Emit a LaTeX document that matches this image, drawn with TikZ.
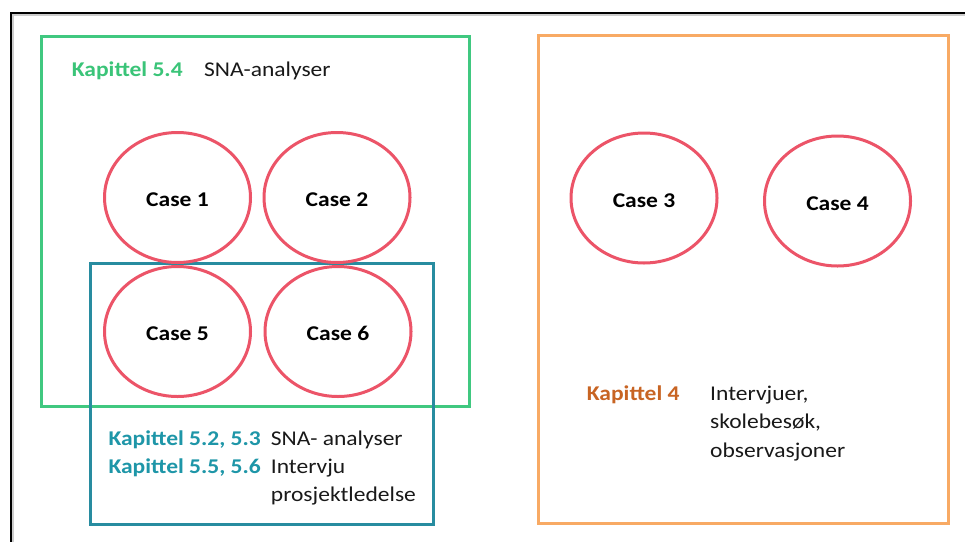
\documentclass[tikz,border=0pt]{standalone}
\usepackage{fontspec}
\setmainfont{Carlito}[FakeStretch=1.12]
\usetikzlibrary{shapes.geometric}
\definecolor{kgreen}{RGB}{64,200,128}
\definecolor{kgreentext}{RGB}{58,196,120}
\definecolor{kteal}{RGB}{40,140,160}
\definecolor{ktealtext}{RGB}{30,150,168}
\definecolor{korange}{RGB}{248,170,100}
\definecolor{korangetext}{RGB}{200,100,35}
\definecolor{kred}{RGB}{236,84,104}
\definecolor{ktext}{RGB}{25,25,25}
\begin{document}
\begin{tikzpicture}[x=1pt,y=-1pt,
  frame/.style={line width=3pt},
  casenode/.style={ellipse,draw=kred,line width=3pt,minimum width=146pt,minimum height=130pt,inner sep=0pt,font=\fontsize{21}{25}\selectfont\bfseries,text=black,text height=18pt,text depth=0pt},
  lbl/.style={anchor=base west,inner sep=0pt,font=\fontsize{21}{28.4}\selectfont},
  lblb/.style={lbl,font=\fontsize{21}{28.4}\selectfont\bfseries}]
\useasboundingbox (0,0) rectangle (965,541);
\fill[white] (0,0) rectangle (965,541);
% outer frame
\draw[gray!40,line width=1.5pt] (13,600) -- (13,15) -- (1000,15);
\draw[black,line width=2pt] (11,600) -- (11,13) -- (1000,13);
% boxes
\draw[frame,draw=kgreen] (41.7,36.7) rectangle (469,406.5);
\draw[frame,draw=korange] (538.5,35.5) rectangle (948.7,523.5);
\draw[frame,draw=kteal] (90,263.5) rectangle (433.3,524);
% cases
\node[casenode] (c1) at (177.5,197.5) {Case 1};
\node[casenode] (c2) at (337,197.5) {Case 2};
\node[casenode] (c5) at (177.5,331.5) {Case 5};
\node[casenode] (c6) at (338,331.5) {Case 6};
\node[casenode] (c3) at (644,198) {Case 3};
\node[casenode] (c4) at (837.5,201) {Case 4};
% labels
\node[lblb,text=kgreentext] (k54) at (71.7,76.5) {Kapittel 5.4};
\node[lbl,text=ktext] (sna1) at (204,76.5) {SNA-analyser};
\node[lblb,text=ktealtext] (k523) at (108.3,445) {Kapittel 5.2, 5.3};
\node[lblb,text=ktealtext] (k556) at (108.3,473.4) {Kapittel 5.5, 5.6};
\node[lbl,text=ktext] (sna2) at (270.7,445) {SNA- analyser};
\node[lbl,text=ktext] (intv) at (270.7,473.4) {Intervju};
\node[lbl,text=ktext] (prosj) at (270.7,501.8) {prosjektledelse};
\node[lblb,text=korangetext] (k4) at (586.7,400) {Kapittel 4};
\node[lbl,text=ktext] (intv2) at (710,400) {Intervjuer,};
\node[lbl,text=ktext] (skole) at (710,428.5) {skolebesøk,};
\node[lbl,text=ktext] (obs) at (710,457) {observasjoner};
\end{tikzpicture}
\end{document}
